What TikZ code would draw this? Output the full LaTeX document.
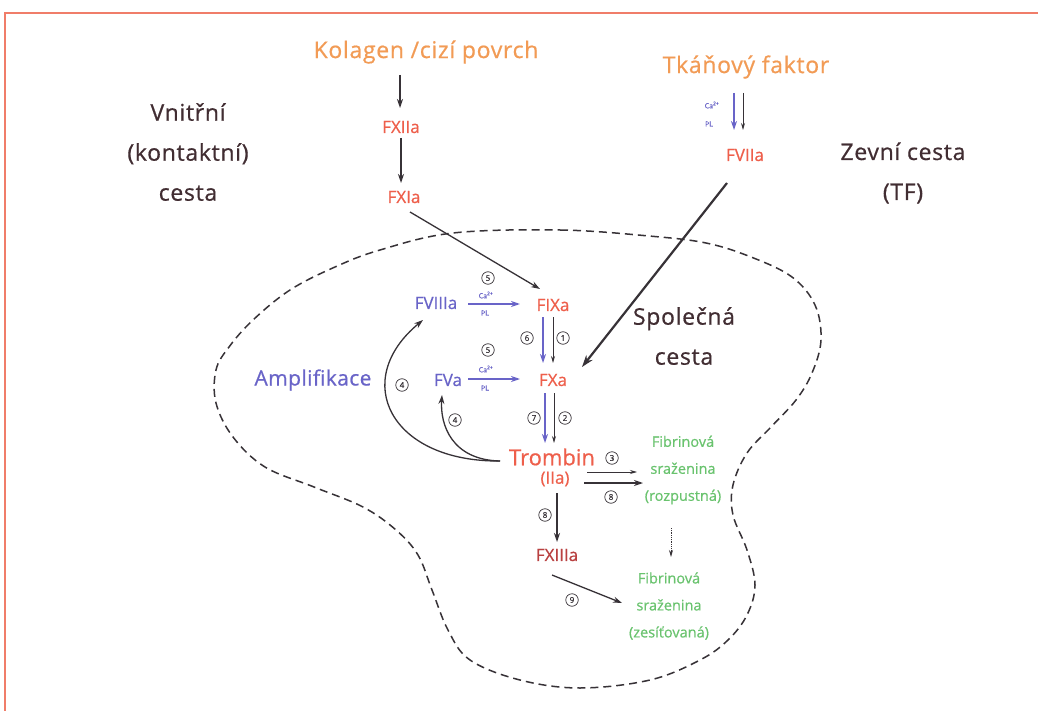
\documentclass[tikz,border=0pt]{standalone}
\usepackage{fontspec}
\setmainfont{Open Sans}[FakeBold=0.6]
\usetikzlibrary{arrows.meta,calc}
\definecolor{orng}{RGB}{242,155,85}
\definecolor{redf}{RGB}{238,95,75}
\definecolor{redd}{RGB}{185,65,65}
\definecolor{bluef}{RGB}{105,100,200}
\definecolor{darkt}{RGB}{65,45,50}
\definecolor{grn}{RGB}{105,195,110}
\definecolor{framec}{RGB}{240,125,105}
\definecolor{arrc}{RGB}{55,50,55}
\begin{document}
\begin{tikzpicture}[x=1pt,y=-1pt,
 lbl/.style={inner sep=0pt,align=center},
 big/.style={lbl,font=\fontsize{23}{40}\selectfont\addfontfeature{LetterSpace=3}},
 fac/.style={lbl,font=\fontsize{17}{18}\selectfont},
 fib/.style={lbl,text=grn,font=\fontsize{14.5}{27}\selectfont},
 calbl/.style={lbl,text=bluef,font=\fontsize{7}{8}\selectfont},
 num/.style={circle,draw=arrc,line width=0.7pt,inner sep=0pt,minimum size=12.5pt,text=arrc,font=\fontsize{8}{9}\selectfont},
 arr/.style={draw=arrc,line width=1.3pt,-{Stealth[length=9pt,width=6pt]}},
 tarr/.style={draw=arrc,line width=0.8pt,-{Stealth[length=7pt,width=4pt]}},
 barr/.style={draw=bluef,line width=1.6pt,-{Stealth[length=9pt,width=6pt]}},
 karr/.style={draw=arrc,line width=2.2pt,-{Stealth[length=12pt,width=8pt]}},
 blob/.style={draw=arrc,line width=1.5pt,dash pattern=on 8pt off 5pt},
]
\useasboundingbox (0,0) rectangle (1038,711);
\fill[white] (0,0) rectangle (1038,711);
\draw[framec,line width=2pt] (5,720) -- (5,13) -- (1045,13);

% blob
\draw[blob] plot[smooth cycle, tension=0.6] coordinates {
(453,233) (560,230) (649,236) (706,243) (751,257) (792,277) (815,305) (821,340)
(812,373) (796,400) (771,427) (747,453) (733,485) (733,515) (747,550) (755,585)
(747,615) (728,640) (700,660) (650,680) (580,688) (520,680) (470,660) (448,630)
(432,590) (418,555) (396,530) (363,507) (314,487) (265,467) (233,437) (216,403)
(216,370) (229,347) (253,320) (290,290) (335,267) (380,250)};

% labels
\node[big,text=orng] (kol) at (426,52) {Kolagen /cizí povrch};
\node[fac,text=redf] (f12) at (401,127) {FXIIa};
\node[fac,text=redf] (f11) at (404,197) {FXIa};
\node[big,text=orng] (tf) at (746,67) {Tkáňový faktor};
\node[fac,text=redf] (f7) at (745,155) {FVIIa};
\node[big,text=darkt] (vn) at (188,152) {Vnitřní\\(kontaktní)\\cesta};
\node[big,text=darkt] (ze) at (903,173) {Zevní cesta\\(TF)};
\node[big,text=darkt] (sp) at (684,336) {Společná\\cesta};
\node[fac,text=bluef] (f8) at (436,303) {FVIIIa};
\node[fac,text=redf] (f9) at (553,305) {FIXa};
\node[fac,text=bluef] (f5) at (448,380) {FVa};
\node[fac,text=redf] (f10) at (553,380) {FXa};
\node[lbl,text=bluef,font=\fontsize{21}{22}\selectfont\addfontfeature{LetterSpace=2}] (amp) at (313,380) {Amplifikace};
\node[lbl,text=redf,font=\fontsize{22}{24}\selectfont] (tr) at (552,457) {Trombin};
\node[fac,text=redf] (iia) at (555,479) {(IIa)};
\node[fac,text=redd] (f13) at (557,555) {FXIIIa};
\node[fib] (fb1) at (683,470) {Fibrinová\\sraženina\\(rozpustná)};
\node[fib] (fb2) at (669,606) {Fibrinová\\sraženina\\(zesíťovaná)};

% Ca / PL labels
\node[calbl] (ca1) at (712,105) {Ca\textsuperscript{2+}};
\node[calbl] (pl1) at (709,124) {PL};
\node[calbl] (ca2) at (486,295) {Ca\textsuperscript{2+}};
\node[calbl] (pl2) at (485,313) {PL};
\node[calbl] (ca3) at (486,369) {Ca\textsuperscript{2+}};
\node[calbl] (pl3) at (485,388) {PL};

% circled numbers
\node[num] (n5a) at (488,278) {5};
\node[num] (n6) at (527,338) {6};
\node[num] (n1) at (563,338) {1};
\node[num] (n5b) at (488,350) {5};
\node[num] (n4a) at (402,385) {4};
\node[num] (n4b) at (455,420) {4};
\node[num] (n7) at (534,418) {7};
\node[num] (n2) at (565,418) {2};
\node[num] (n3) at (612,458) {3};
\node[num] (n8a) at (611,497) {8};
\node[num] (n8b) at (545,515) {8};
\node[num] (n9) at (572,600) {9};

% connectors
\draw[arr] ([shift={(-26,23)}]kol.center) -- ([shift={(-1,-19)}]f12.center);
\draw[arr] ([shift={(0,11)}]f12.center) -- ([shift={(-3,-14)}]f11.center);
\draw[arr] ([shift={(6,15)}]f11.center) -- ([shift={(-13,-16)}]f9.center);
\draw[barr] ([shift={(-12,26)}]tf.center) -- ([shift={(-11,-25)}]f7.center);
\draw[tarr] ([shift={(-3,26)}]tf.center) -- ([shift={(-2,-25)}]f7.center);
\draw[karr] ([shift={(-18,28)}]f7.center) -- ([shift={(29,-13)}]f10.center);
\draw[barr] ([shift={(32,1)}]f8.center) -- ([shift={(-33,-1)}]f9.center);
\draw[barr] ([shift={(-10,12)}]f9.center) -- ([shift={(-10,-17)}]f10.center);
\draw[tarr] ([shift={(0,12)}]f9.center) -- ([shift={(0,-17)}]f10.center);
\draw[barr] ([shift={(20,-1)}]f5.center) -- ([shift={(-33,-1)}]f10.center);
\draw[barr] ([shift={(-8,13)}]f10.center) -- ([shift={(-7,-14)}]tr.center);
\draw[tarr] ([shift={(1,13)}]f10.center) -- ([shift={(2,-14)}]tr.center);
\draw[tarr] ([shift={(35,15)}]tr.center) -- ([shift={(-46,2)}]fb1.center);
\draw[arr] ([shift={(32,26)}]tr.center) -- ([shift={(-40,13)}]fb1.center);
\draw[arr] ([shift={(2,14)}]iia.center) -- ([shift={(0,-13)}]f13.center);
\draw[tarr,densely dotted] ([shift={(-12,58)}]fb1.center) -- ([shift={(2,-49)}]fb2.center);
\draw[arr] ([shift={(-5,20)}]f13.center) -- ([shift={(-47,-3)}]fb2.center);
\draw[arr] ([shift={(-52,4)}]tr.center) .. controls (390,462) and (350,380) .. ([shift={(-13,17)}]f8.center);
\draw[arr] ([shift={(-52,4)}]tr.center) .. controls (452,460) and (440,425) .. ([shift={(-6,15)}]f5.center);
\end{tikzpicture}
\end{document}
